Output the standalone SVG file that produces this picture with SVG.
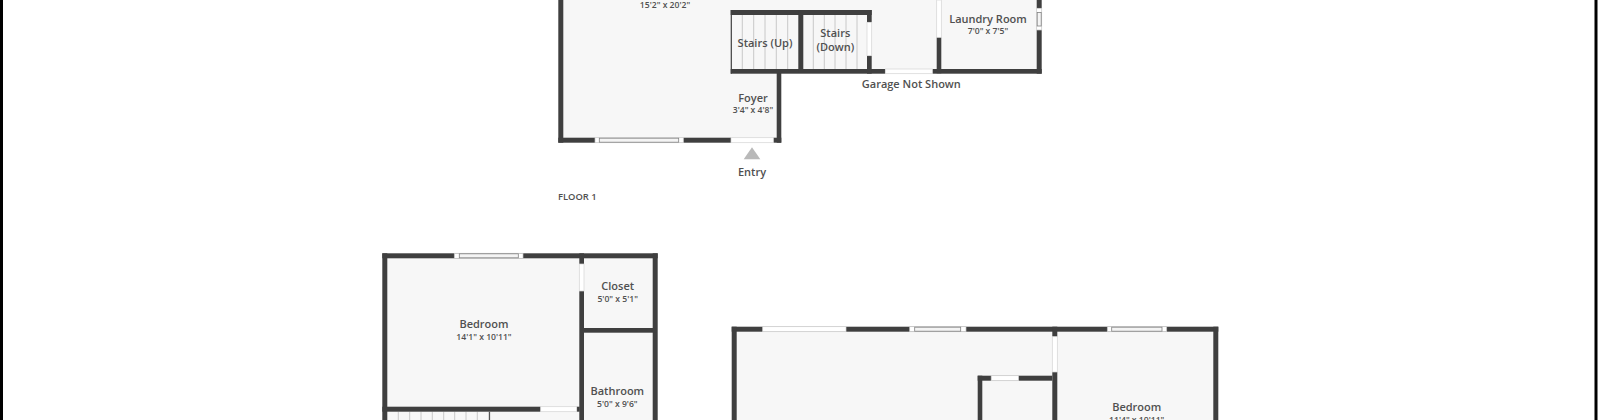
<svg xmlns="http://www.w3.org/2000/svg" width="1600" height="420" viewBox="0 0 1600 420">
<style>
.floor{fill:#f7f7f7}
.wall{fill:#3f3f3f}
.door{fill:#fff;stroke:#d4d4d4;stroke-width:.7}
.win{fill:#fff;stroke:#c4c4c4;stroke-width:.7}
.pane{fill:#f4f4f4;stroke:#808080;stroke-width:.8}
.step{stroke:#c8c8c8;stroke-width:1;fill:none}
text{font-family:"Open Sans","Noto Sans","Liberation Sans",sans-serif;font-weight:600;fill:#505050;text-anchor:middle}
.n{font-size:11px}
.d{font-size:8.6px}
</style>
<rect width="1600" height="420" fill="#fff"/>
<rect x="0" y="0" width="3" height="420" fill="#000"/>
<rect x="1594.5" y="0" width="3" height="420" fill="#000"/>

<g id="floor1">
<path class="floor" d="M561 0H1039V71H779V140H561Z"/>
<path class="step" d="M742.3 15V69M753.7 15V69M765 15V69M776.3 15V69M787.7 15V69M813.3 15V69M824.3 15V69M835 15V69M846 15V69M857 15V69"/>
<g class="wall">
<rect x="558.3" y="0" width="5" height="142.7"/>
<rect x="558.3" y="137.7" width="36.7" height="5"/>
<rect x="683.3" y="137.7" width="47.7" height="5"/>
<rect x="773.3" y="137.7" width="8" height="5"/>
<rect x="776.7" y="73" width="4.6" height="69.7"/>
<rect x="730.7" y="10" width="141" height="5"/>
<rect x="730.7" y="10" width="1.2" height="63.7"/>
<rect x="730.7" y="69" width="154.6" height="4.7"/>
<rect x="932.3" y="69" width="109.4" height="4.7"/>
<rect x="798.3" y="10" width="5" height="63"/>
<rect x="867" y="10" width="4.7" height="12.3"/>
<rect x="867" y="55.7" width="4.7" height="18"/>
<rect x="936.7" y="37.3" width="4.6" height="36"/>
<rect x="1036.7" y="0" width="5" height="8.3"/>
<rect x="1036.7" y="30" width="5" height="43.7"/>
</g>
<rect class="door" x="731" y="137.7" width="42.3" height="5"/>
<rect class="door" x="885.3" y="69" width="47" height="4.7"/>
<rect class="door" x="867" y="22.3" width="4.7" height="33.4"/>
<rect class="door" x="936.7" y="0" width="4.6" height="37.3"/>
<rect class="win" x="595" y="137.7" width="88.3" height="5"/>
<rect class="pane" x="599.3" y="138.2" width="79.4" height="4"/>
<rect class="win" x="1036.7" y="8.3" width="5" height="21.7"/>
<rect class="pane" x="1037.2" y="12.5" width="4" height="13.5"/>
<polygon points="752,147.3 760.3,159.3 743.7,159.3" fill="#b9b9b9"/>
<text class="d" x="665" y="7.7">15'2" x 20'2"</text>
<text class="n" x="765" y="46.7">Stairs (Up)</text>
<text class="n" x="835.3" y="37">Stairs</text>
<text class="n" x="835.3" y="51">(Down)</text>
<text class="n" x="753" y="101.7">Foyer</text>
<text class="d" x="753" y="113.3">3'4" x 4'8"</text>
<text class="n" x="988" y="22.7">Laundry Room</text>
<text class="d" x="988" y="34.3">7'0" x 7'5"</text>
<text class="n" x="911.3" y="87.7">Garage Not Shown</text>
<text class="n" x="752" y="176">Entry</text>
<text x="558" y="200" style="font-size:9.4px;font-weight:600;text-anchor:start">FLOOR 1</text>
</g>

<g id="floor2-left">
<rect class="floor" x="385" y="256" width="270" height="164"/>
<path class="step" d="M398.3 411.7V420M409.7 411.7V420M421 411.7V420M432.3 411.7V420M443.7 411.7V420M454.7 411.7V420M466 411.7V420M477.3 411.7V420"/>
<rect x="488.8" y="411.7" width="1.3" height="8.3" fill="#555"/>
<g class="wall">
<rect x="382.3" y="253.3" width="275.4" height="5"/>
<rect x="382.3" y="253.3" width="5" height="166.7"/>
<rect x="652.7" y="253.3" width="5" height="166.7"/>
<rect x="579.3" y="253.3" width="4.7" height="10.7"/>
<rect x="579.3" y="291" width="4.7" height="129"/>
<rect x="584" y="328" width="73" height="4.7"/>
<rect x="382.3" y="406.7" width="158.4" height="5"/>
<rect x="576.7" y="406.7" width="3" height="5"/>
</g>
<rect class="door" x="579.3" y="264" width="4.7" height="27"/>
<rect class="door" x="540.7" y="406.7" width="36" height="5"/>
<rect class="win" x="454.3" y="253.3" width="68.7" height="5"/>
<rect class="pane" x="459.3" y="253.8" width="59" height="4"/>
<text class="n" x="484" y="328">Bedroom</text>
<text class="d" x="484" y="340">14'1" x 10'11"</text>
<text class="n" x="617.7" y="290">Closet</text>
<text class="d" x="617.7" y="302">5'0" x 5'1"</text>
<text class="n" x="617.3" y="394.7">Bathroom</text>
<text class="d" x="617.3" y="406.7">5'0" x 9'6"</text>
</g>

<g id="floor2-right">
<rect class="floor" x="734" y="329" width="482" height="91"/>
<g class="wall">
<rect x="731.7" y="326.7" width="486.6" height="5"/>
<rect x="731.7" y="326.7" width="5" height="93.3"/>
<rect x="1213.3" y="326.7" width="5" height="93.3"/>
<rect x="1052.3" y="326.7" width="5" height="10"/>
<rect x="1052.3" y="372" width="5" height="48"/>
<rect x="977.7" y="375.7" width="74.6" height="5"/>
<rect x="977.7" y="375.7" width="4.6" height="44.3"/>
</g>
<rect class="door" x="762.7" y="326.7" width="83.3" height="5"/>
<rect class="door" x="1052.3" y="336.7" width="5" height="35.3"/>
<rect class="door" x="991.2" y="375.7" width="27.3" height="5"/>
<rect class="win" x="909.7" y="326.7" width="56.3" height="5"/>
<rect class="pane" x="914.7" y="327.2" width="46" height="4"/>
<rect class="win" x="1107.3" y="326.7" width="59.4" height="5"/>
<rect class="pane" x="1111.7" y="327.2" width="50.3" height="4"/>
<text class="n" x="1136.7" y="410.7">Bedroom</text>
<text class="d" x="1136.7" y="422.7">11'4" x 10'11"</text>
</g>
</svg>
